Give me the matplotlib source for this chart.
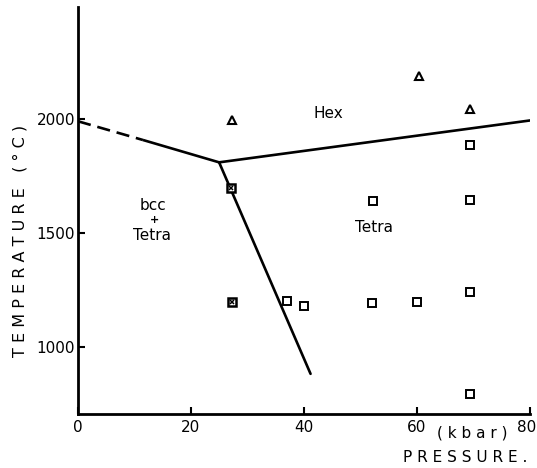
import matplotlib
matplotlib.use('Agg')
import matplotlib.pyplot as plt
import matplotlib.transforms as mtransforms

# phase boundaries (pressure in kbar, temperature in C)
bcc_hex_dash_p = [0, 11.5]
bcc_hex_dash_T = [1990, 1908]
bcc_hex_p = [11.5, 25]
bcc_hex_T = [1908, 1810]
hex_tetra_p = [25, 80.5]
hex_tetra_T = [1810, 1995]
bcc_tetra_p = [25, 41.2]
bcc_tetra_T = [1810, 883]

# experimental points
hex_p = [27.3, 60.4, 69.4]
hex_T = [1995, 2190, 2045]
tetra_p = [37.1, 40.1, 52.1, 60.1, 69.4, 69.4, 52.2, 69.4, 69.4]
tetra_T = [1203, 1182, 1193, 1197, 1240, 795, 1640, 1645, 1886]
mixed_p = [27.1, 27.3]
mixed_T = [1696, 1200]

xticks = [0, 20, 40, 60, 80]
yticks = [1000, 1500, 2000]

plt.rcParams['font.family'] = 'DejaVu Sans'

fig = plt.figure(figsize=(5.37, 4.68), dpi=100)
ax = fig.add_axes([0.1453, 0.1154, 0.8408, 0.8697])

lw = 1.9
ax.plot(bcc_hex_dash_p, bcc_hex_dash_T, color='black', lw=lw, dashes=(5, 2.6))
ax.plot(bcc_hex_p, bcc_hex_T, color='black', lw=lw, solid_capstyle='butt')
ax.plot(hex_tetra_p, hex_tetra_T, color='black', lw=lw, solid_capstyle='round')
ax.plot(bcc_tetra_p, bcc_tetra_T, color='black', lw=lw, solid_capstyle='round')

ax.plot(hex_p, hex_T, ls='none', marker='^', ms=5.5, mfc='white', mec='black', mew=1.5)
ax.plot(tetra_p, tetra_T, ls='none', marker='s', ms=6, mfc='white', mec='black', mew=1.4)
ax.plot(mixed_p, mixed_T, ls='none', marker='s', ms=6, mfc='white', mec='black', mew=1.8, zorder=3)
ax.plot(mixed_p, mixed_T, ls='none', marker='x', ms=3.5, mec='black', mew=1.1, zorder=4)

ax.text(44.4, 2022, 'Hex', fontsize=11, ha='center', va='center')
ax.text(52.4, 1523, 'Tetra', fontsize=11, ha='center', va='center')
ax.text(13.3, 1623, 'bcc', fontsize=11, ha='center', va='center')
ax.text(13.5, 1557, '+', fontsize=8, ha='center', va='center', fontweight='bold')
ax.text(13.1, 1491, 'Tetra', fontsize=11, ha='center', va='center')

ax.set_xlim(0, 80)
ax.set_ylim(707, 2491)
ax.set_xticks(xticks)
ax.set_yticks(yticks)
ax.tick_params(direction='in', length=5, width=1.5, labelsize=11)
ax.tick_params(axis='x', pad=4)
ax.tick_params(axis='y', pad=2)

# nudge the last x label so it stays inside the figure
last = ax.get_xticklabels()[-1]
last.set_transform(last.get_transform() +
                   mtransforms.ScaledTranslation(-3 / 100, 0, fig.dpi_scale_trans))

for s in ['top', 'right']:
    ax.spines[s].set_visible(False)
for s in ['left', 'bottom']:
    ax.spines[s].set_linewidth(2)

fig.text(20 / 537, 1 - 241 / 468, 'T E M P E R A T U R E   ( ° C )', rotation=90,
         fontsize=11.5, ha='center', va='center')
fig.text(472 / 537, 1 - 433 / 468, '( k b a r )', fontsize=11, ha='center', va='center')
fig.text(465 / 537, 1 - 458 / 468, 'P R E S S U R E .', fontsize=11, ha='center', va='center')

fig.savefig('out.png', dpi=100)
